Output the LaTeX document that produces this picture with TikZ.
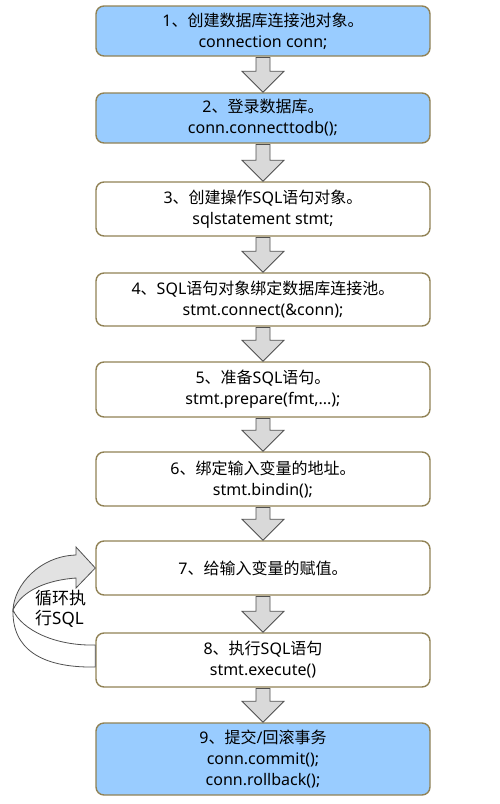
\documentclass[tikz,border=0pt]{standalone}
\usepackage{fontspec}
\setmainfont{Noto Sans CJK SC}
\newfontfamily\latnfont{Noto Sans}
\newcommand{\latn}[1]{{\latnfont #1}}
\usetikzlibrary{calc}
\definecolor{boxblue}{RGB}{153,204,255}
\definecolor{boxedge}{RGB}{145,130,85}
\definecolor{arrgray}{RGB}{217,217,217}
\definecolor{arredge}{RGB}{80,80,80}
\definecolor{loopgray}{RGB}{226,226,226}
\begin{document}
\begin{tikzpicture}[x=1pt,y=-1pt,
  stepbox/.style={draw=boxedge, line width=1.4pt, rounded corners=8pt,
    minimum width=334pt, inner sep=0pt, align=center,
    font=\fontsize{16}{21}\selectfont},
  bluebox/.style={stepbox, fill=boxblue},
  whitebox/.style={stepbox, fill=white},
  barrow/.style={draw=arredge, fill=arrgray, line width=0.8pt, line join=miter},
  loopline/.style={draw=arredge, line width=0.8pt}]
\useasboundingbox (0,0) rectangle (500,804);

\node[bluebox, minimum height=50pt] (b1) at (263,31) {\latn{1}、创建数据库连接池对象。\\\latn{connection conn;}};
\node[bluebox, minimum height=50pt] (b2) at (263,118) {\latn{2}、登录数据库。\\\latn{conn.connecttodb();}};
\node[whitebox, minimum height=54pt] (b3) at (263,209) {\latn{3}、创建操作\latn{SQL}语句对象。\\\latn{sqlstatement stmt;}};
\node[whitebox, minimum height=53pt] (b4) at (263,299.5) {\latn{4}、\latn{SQL}语句对象绑定数据库连接池。\\\latn{stmt.connect(\&conn);}};
\node[whitebox, minimum height=55pt] (b5) at (263,389.5) {\latn{5}、准备\latn{SQL}语句。\\\latn{stmt.prepare(fmt,...);}};
\node[whitebox, minimum height=54pt] (b6) at (263,479) {\latn{6}、绑定输入变量的地址。\\\latn{stmt.bindin();}};
\node[whitebox, minimum height=54pt] (b7) at (263,568) {\latn{7}、给输入变量的赋值。};
\node[whitebox, minimum height=54pt] (b8) at (263,660) {\latn{8}、执行\latn{SQL}语句\\\latn{stmt.execute()}};
\node[bluebox, minimum height=72pt] (b9) at (263,759) {\latn{9}、提交\latn{/}回滚事务\\\latn{conn.commit();}\\\latn{conn.rollback();}};

\foreach \a/\b in {b1/b2,b2/b3,b3/b4,b4/b5,b5/b6,b6/b7,b7/b8,b8/b9}{
  \path (\a.south) coordinate (s) (\b.north) coordinate (t);
  \draw[barrow] ($(s)+(-7,0.7)$) -- ($(t)+(-7,-21)$) -- ($(t)+(-21,-21)$) -- (t)
     -- ($(t)+(21,-21)$) -- ($(t)+(7,-21)$) -- ($(s)+(7,0.7)$) -- cycle;
}

% loop arrow
\coordinate (lb1) at ($(b8.west)+(0,-15)$);
\coordinate (lb2) at ($(b8.west)+(0,7)$);
\draw[loopline, fill=white] (lb2) .. controls (40,668) and (12,648) .. (13,610)
   .. controls (22,630) and (55,646) .. (lb1) -- cycle;
\draw[loopline, fill=loopgray, line join=miter] (13,610) .. controls (14,585) and (40,556) .. (76,555)
   -- (76,547) -- (b7.west) -- (76,588) -- (76,578)
   .. controls (48,580) and (22,590) .. (13,610) -- cycle;
\node[anchor=north west, align=left, inner sep=0pt, font=\fontsize{17}{20}\selectfont] (lt) at (35,590) {循环执\\行\latn{SQL}};
\end{tikzpicture}
\end{document}
